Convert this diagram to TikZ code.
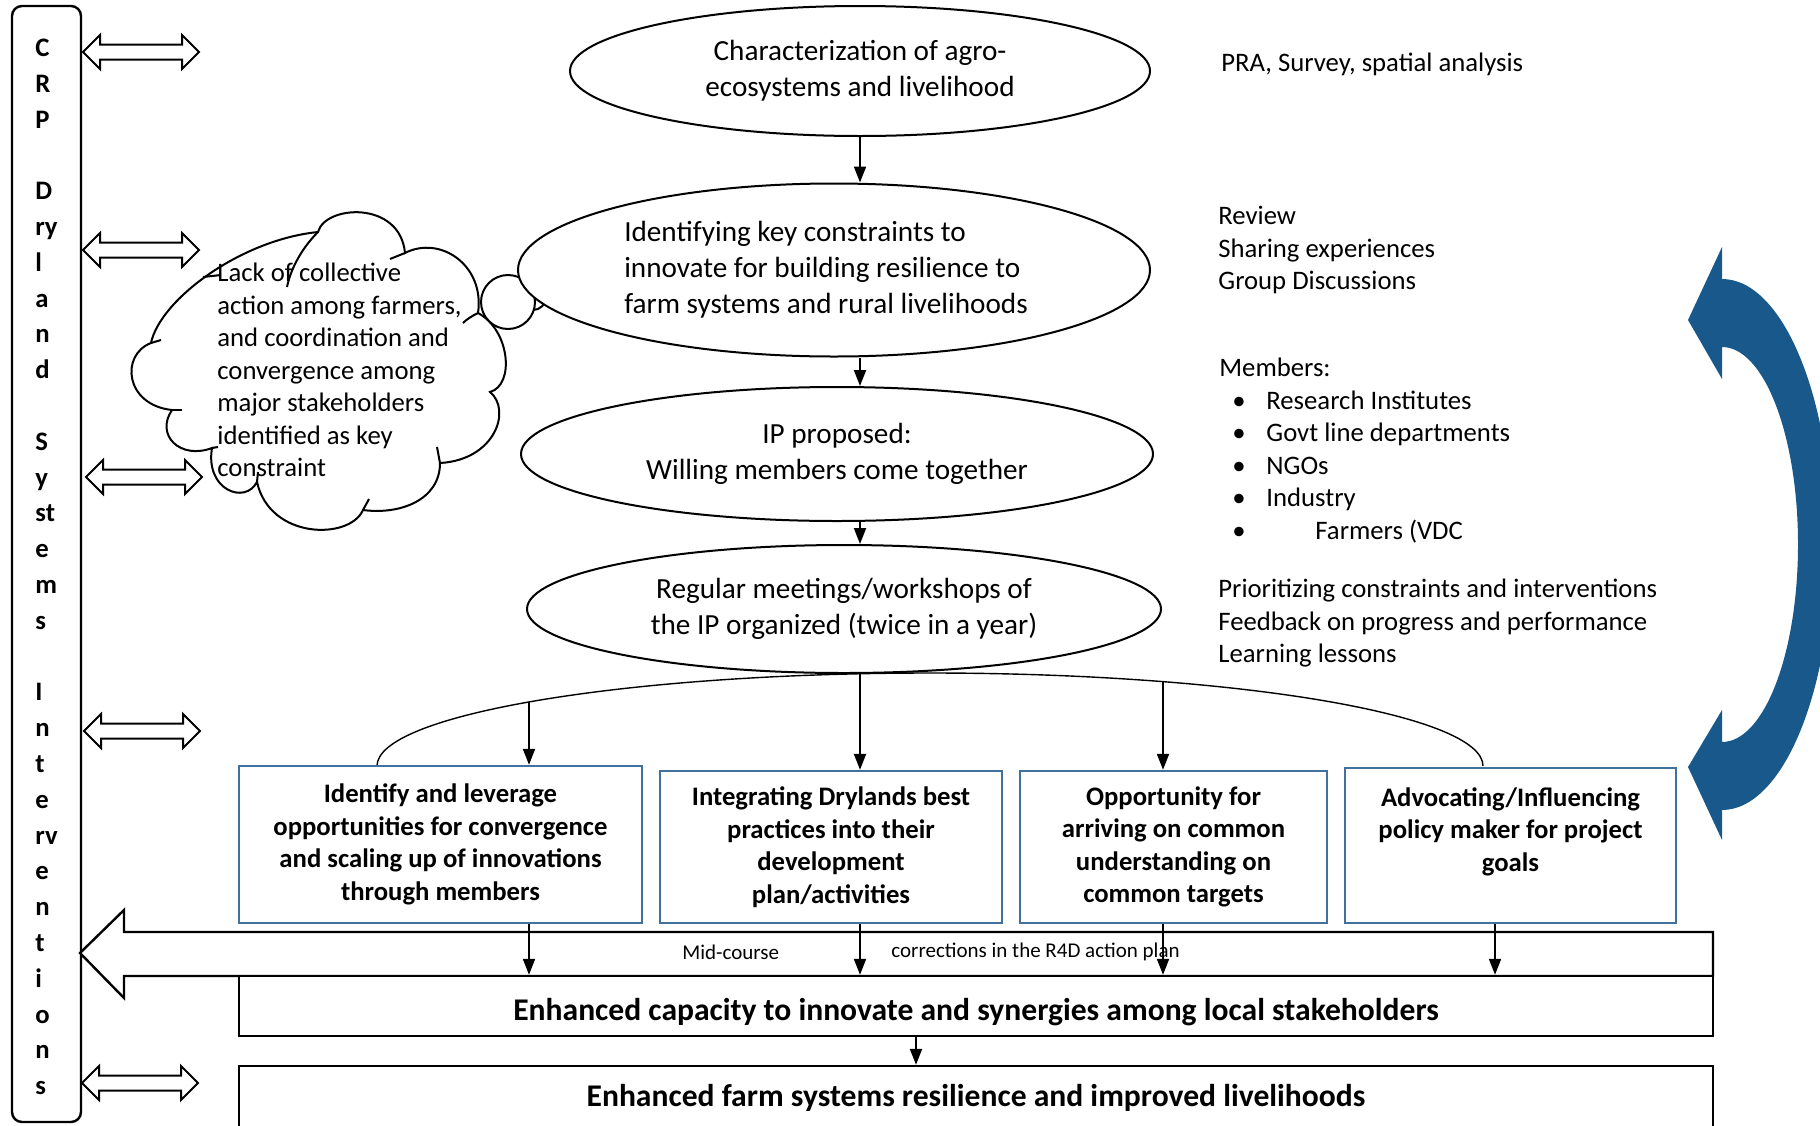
\documentclass[tikz,border=0pt]{standalone}
\usepackage{fontspec}
\setmainfont{Carlito}
\usetikzlibrary{shapes.geometric,arrows.meta}
\definecolor{boxblue}{RGB}{65,113,156}
\definecolor{arcblue}{RGB}{24,88,138}
\tikzset{
  ell/.style={ellipse, draw, line width=1pt, fill=white, inner sep=0pt, align=center, font=\fontsize{14.6}{18}\selectfont},
  bx/.style={rectangle, draw=boxblue, line width=1.2pt, fill=white, inner sep=0pt, align=center, font=\bfseries\fontsize{13.35}{16.25}\selectfont},
  outbox/.style={rectangle, draw, line width=1.2pt, fill=white, inner sep=0pt, font=\bfseries\fontsize{15.8}{19}\selectfont},
  rtxt/.style={anchor=north west, inner sep=0pt, align=left, font=\fontsize{13.35}{16.25}\selectfont},
  arr/.style={line width=1pt, -{Triangle[length=8pt,width=6pt]}},
  cloudline/.style={line width=1pt},
  dblarrow/.pic={\draw[line width=1pt, fill=white] (0,0) -- (17,-17) -- (17,-7.5) -- (99,-7.5) -- (99,-17) -- (116,0) -- (99,17) -- (99,7.5) -- (17,7.5) -- (17,17) -- cycle;},
}
\begin{document}
\begin{tikzpicture}[x=0.5pt,y=-0.5pt]
\useasboundingbox (0,0) rectangle (1820,1125);
\clip (0,0) rectangle (1820,1125);

% left bar
\node[draw, line width=1.2pt, rounded corners=5pt, minimum width=34.5pt, minimum height=558pt, inner sep=0pt] (bar) at (46.5,564) {};
\node[anchor=west, inner sep=0pt, align=left, font=\bfseries\fontsize{13.35}{17.9}\selectfont] (bartext) at (35,567) {C\\R\\P\\\mbox{}\\D\\ry\\l\\a\\n\\d\\\mbox{}\\S\\y\\st\\e\\m\\s\\\mbox{}\\I\\n\\t\\e\\rv\\e\\n\\t\\i\\o\\n\\s};

% big left arrow
\draw[line width=1.2pt, fill=white] (80,953) -- (124,910) -- (124,932) -- (1713,932) -- (1713,976) -- (124,976) -- (124,998) -- cycle;
\node[font=\fontsize{10.5}{12}\selectfont, anchor=west, inner sep=0pt] (mid) at (682,952) {Mid-course};
\node[font=\fontsize{10.5}{12}\selectfont, anchor=west, inner sep=0pt] (corr) at (891,952) {corrections in the R4D action plan};

% blue curved arrow
\fill[arcblue] (1688,320) -- (1722,247) -- (1722,279)
  .. controls (1782.8,279) and (1832,397.9) .. (1832,544.5)
  .. controls (1832,691.1) and (1782.8,810) .. (1722,810)
  -- (1722,840) -- (1688,767) -- (1722,710) -- (1722,742)
  .. controls (1764,742) and (1798,653.6) .. (1798,544.5)
  .. controls (1798,435.4) and (1764,347) .. (1722,347)
  -- (1722,379) -- cycle;

% cloud (drawn directly)
\coordinate (c1) at (151,343);
\coordinate (c2) at (318,232);
\coordinate (c3) at (405,253);
\coordinate (c4) at (478,313);
\coordinate (c5) at (490,392);
\coordinate (c6) at (440,463);
\coordinate (c7) at (363,510);
\coordinate (c8) at (257,482);
\coordinate (c9) at (212,448);
\coordinate (c10) at (172,410);
\draw[cloudline, fill=white] (c1)
  .. controls (160,300) and (240,240) .. (c2)
  .. controls (325,205) and (400,200) .. (c3)
  .. controls (440,235) and (485,265) .. (c4)
  .. controls (510,330) and (515,385) .. (c5)
  .. controls (512,410) and (495,460) .. (c6)
  .. controls (440,500) and (400,515) .. (c7)
  .. controls (350,540) and (270,540) .. (c8)
  .. controls (245,505) and (205,490) .. (c9)
  .. controls (180,460) and (155,435) .. (c10)
  .. controls (125,405) and (120,355) .. (c1) -- cycle;
% inner puff strokes
\draw[cloudline] (c2) .. controls (302,248) and (291,268) .. (287,287);
\draw[cloudline] (c3) -- (390,259);
\draw[cloudline] (c4) .. controls (472,316) and (467,319) .. (463,323);
\draw[cloudline] (c6) -- (437,447);
\draw[cloudline] (c7) -- (369,499);
\draw[cloudline] (c8) -- (258,472);
\draw[cloudline] (c9) -- (218,447);
\draw[cloudline] (c10) -- (182,410);
\draw[cloudline] (c1) -- (161,340);
\draw[cloudline] (203,277) -- (221,275);
% thought bubbles
\draw[cloudline, fill=white] (533,297) circle[radius=13];
\draw[cloudline, fill=white] (508,302) circle[radius=27];

\node[rtxt] (ctext) at (217,263) {Lack of collective\\action among farmers,\\and coordination and\\convergence among\\major stakeholders\\identified as key\\constraint};

% double arrows
\pic (d1) at (83,52) {dblarrow};
\pic (d2) at (83,250) {dblarrow};
\pic (d3) at (86,477) {dblarrow};
\pic (d4) at (84,731) {dblarrow};
\pic (d5) at (82,1083) {dblarrow};

% arc
\draw[line width=0.7pt] (377,766) .. controls (377,714.6) and (624.6,673) .. (930,673) .. controls (1235.4,673) and (1483,714.6) .. (1483,766);

% ellipses
\node[ell, minimum width=290pt, minimum height=65pt] (e1) at (860,71) {Characterization of agro-\\ecosystems and livelihood};
\node[ell, align=left, minimum width=316pt, minimum height=86.5pt] (e2) at (834,270) {Identifying key constraints to\\innovate for building resilience to\\farm systems and rural livelihoods\hspace*{8pt}};
\node[ell, minimum width=316pt, minimum height=67pt] (e3) at (837,454) {IP proposed:\\Willing members come together};
\node[ell, minimum width=317pt, minimum height=64pt] (e4) at (844,609) {Regular meetings/workshops of\\the IP organized (twice in a year)};

% boxes
\node[bx, minimum width=201.5pt, minimum height=78.5pt] (b1) at (440.5,844.5) {Identify and leverage\\opportunities for convergence\\and scaling up of innovations\\through members};
\node[bx, minimum width=171pt, minimum height=76pt] (b2) at (831,847) {Integrating Drylands best\\practices into their\\development\\plan/activities};
\node[bx, minimum width=153.5pt, minimum height=76pt] (b3) at (1173.5,847) {Opportunity for\\arriving on common\\understanding on\\common targets};
\node[bx, minimum width=165.5pt, minimum height=77.5pt] (b4) at (1510.5,845.5) {Advocating/Influencing\\policy maker for project\\goals\\\mbox{}};

\node[outbox, minimum width=737pt, minimum height=30pt] (cap) at (976,1006) {\raisebox{-7pt}[0pt][0pt]{Enhanced capacity to innovate and synergies among local stakeholders}};
\node[outbox, minimum width=737pt, minimum height=32pt] (farm) at (976,1098) {Enhanced farm systems resilience and improved livelihoods};

% coordinates
\coordinate (a1) at (529,702);
\coordinate (a3) at (1163,682);
\coordinate (a4) at (1495,0);
\coordinate (a5) at (916,0);

% connectors
\draw[arr] (e1.south) -- (e1.south |- e2.north);
\draw[arr] (e2.south -| e1.south) -- (e1.south |- e3.north);
\draw[arr] (e3.south -| e1.south) -- (e1.south |- e4.north);
\draw[arr] (a1) -- (a1 |- b1.north);
\draw[arr] (e4.south -| e1.south) -- (e1.south |- b2.north);
\draw[arr] (a3) -- (a3 |- b3.north);
\draw[arr] (b1.south -| a1) -- (a1 |- cap.north);
\draw[arr] (b2.south -| e1.south) -- (e1.south |- cap.north);
\draw[arr] (b3.south -| a3) -- (a3 |- cap.north);
\draw[arr] (b4.south -| a4) -- (a4 |- cap.north);
\draw[arr] (cap.south -| a5) -- (a5 |- farm.north);

% right texts
\node[rtxt] (t1) at (1221,53) {PRA, Survey, spatial analysis};
\node[rtxt] (t2) at (1218,206) {Review\\Sharing experiences\\Group Discussions};
\node[rtxt] (t3) at (1219,358) {Members:\\\hspace*{6.5pt}\makebox[17pt][l]{•}Research Institutes\\\hspace*{6.5pt}\makebox[17pt][l]{•}Govt line departments\\\hspace*{6.5pt}\makebox[17pt][l]{•}NGOs\\\hspace*{6.5pt}\makebox[17pt][l]{•}Industry\\\hspace*{6.5pt}\makebox[41.5pt][l]{•}Farmers (VDC};
\node[rtxt] (t4) at (1218,579) {Prioritizing constraints and interventions\\Feedback on progress and performance\\Learning lessons};
\end{tikzpicture}
\end{document}
